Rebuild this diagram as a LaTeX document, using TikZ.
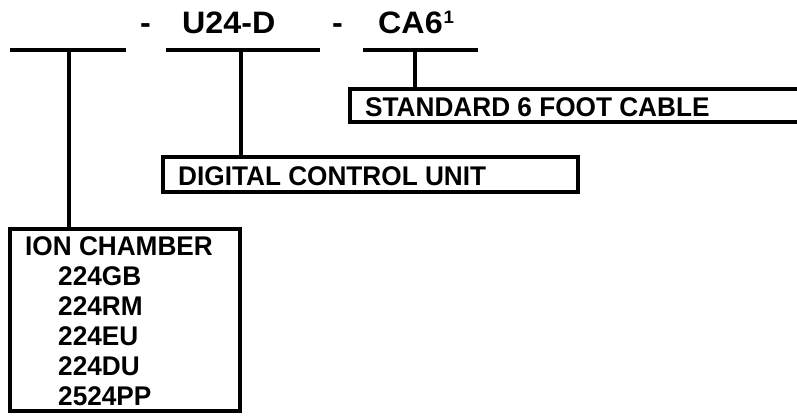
\documentclass[tikz,border=0pt]{standalone}
\usepackage{fontspec}
\setmainfont{Liberation Sans}
\newcommand{\wt}[1]{\scalebox{0.97}[1]{#1}}
\newcommand{\wtop}[1]{\scalebox{1.04}[1]{#1}}
\begin{document}
\begin{tikzpicture}[x=1pt,y=-1pt,
  bar/.style={line width=4pt},
  box/.style={draw, line width=4pt, inner sep=0pt, rectangle},
  lbl/.style={anchor=base west, inner sep=0pt, font=\fontsize{27}{30}\selectfont\bfseries},
  toplbl/.style={anchor=base west, inner sep=0pt, font=\fontsize{31}{34}\selectfont\bfseries}]
\useasboundingbox (0,0) rectangle (797,415);
\clip (0,0) rectangle (797,415);
% top labels
\node[toplbl] (d1) at (140,33) {\wtop{-}};
\node[toplbl] (u24) at (182,33) {\wtop{U24-D}};
\node[toplbl] (d2) at (332,33) {\wtop{-}};
\node[toplbl] (ca6) at (378,33) {\wtop{CA6\hspace{1pt}\raisebox{0.3em}{\fontsize{18}{20}\selectfont 1}}};
% bars
\coordinate (b1l) at (10,50); \coordinate (b1r) at (126,50);
\coordinate (b2l) at (166,50); \coordinate (b2r) at (320,50);
\coordinate (b3l) at (363,50); \coordinate (b3r) at (478,50);
\draw[bar] (b1l) -- (b1r);
\draw[bar] (b2l) -- (b2r);
\draw[bar] (b3l) -- (b3r);
% boxes
\node[box, minimum width=480pt, minimum height=33pt] (cable) at (590,105.5) {};
\node[box, minimum width=415pt, minimum height=35pt] (dcu) at (370.5,174.5) {};
\node[box, minimum width=230pt, minimum height=182pt] (ion) at (125,320) {};
% texts
\node[lbl] (tcable) at (365,116) {\wt{STANDARD 6 FOOT CABLE}};
\node[lbl] (tdcu) at (178,185) {\wt{DIGITAL CONTROL UNIT}};
\node[lbl] (tion) at (25,255) {\wt{ION CHAMBER}};
\node[lbl] (i1) at (58,285) {\wt{224GB}};
\node[lbl] (i2) at (58,315) {\wt{224RM}};
\node[lbl] (i3) at (58,345) {\wt{224EU}};
\node[lbl] (i4) at (58,375) {\wt{224DU}};
\node[lbl] (i5) at (58,405) {\wt{2524PP}};
% verticals
\coordinate (v1) at (69,50);
\coordinate (v2) at (241,50);
\coordinate (v3) at (415,50);
\draw[bar] (v1) -- (v1 |- ion.north);
\draw[bar] (v2) -- (v2 |- dcu.north);
\draw[bar] (v3) -- (v3 |- cable.north);
\end{tikzpicture}
\end{document}
